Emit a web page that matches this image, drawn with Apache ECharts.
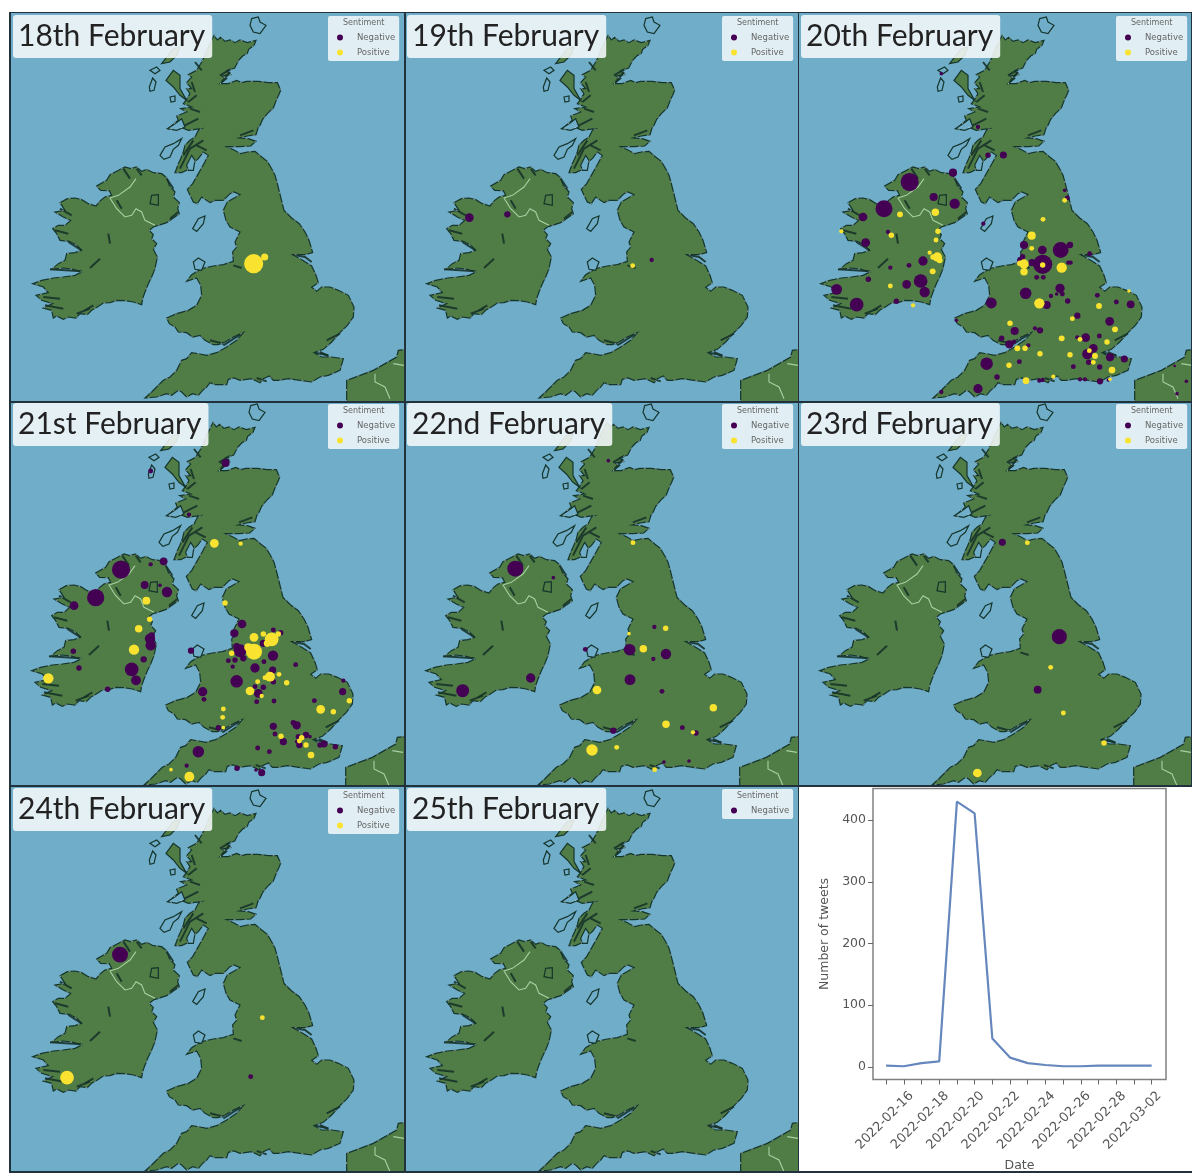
<!DOCTYPE html>
<html>
<head>
<meta charset="utf-8">
<title>UK and Ireland tweets by sentiment</title>
<script src="https://cdn.jsdelivr.net/npm/echarts@6/dist/echarts.min.js"></script>
<style>
    html, body { margin: 0; background: #fff; }
    .panel { position: absolute; width: 394px; filter: blur(0.6px); }
    .rule { position: absolute; background: #21323d; z-index: 5; }
</style>
</head>
<body>
<script type="text/javascript">
// map units: x right, y down, 1182 x 1164 for one panel
// points are [x, y, tweets]
var feb18Negative = [];
var feb18Positive = [[731,755,72],[764,735,9]];
var feb19Negative = [[196,617,14],[310,607,7],[743,744,3]];
var feb19Positive = [[686,761,4]];
var feb20Negative = [
    [335,510,64],[258,590,56],[465,482,12],[407,555,12],[470,575,20],[195,615,14],[203,692,14],[270,660,3],
    [375,747,16],[333,760,4],[277,767,3],[211,802,5],[368,807,36],[326,817,14],[380,840,20],[116,832,22],
    [176,878,36],[295,868,5],[570,430,5],[616,429,9],[808,558,4],[800,535,2],[556,635,3],[430,185,2],[540,345,3],
    [875,725,4],[788,714,49],[816,699,7],[733,714,14],[678,699,12],[734,757,72],[702,752,9],[674,734,5],[668,745,9],
    [716,796,4],[736,796,4],[811,752,3],[818,752,3],[683,844,25],[786,829,16],[793,846,4],[776,846,2],[759,852,3],
    [809,867,5],[746,879,12],[898,850,4],[955,870,4],[998,877,11],[838,911,7],[935,928,14],[650,957,12],[711,949,3],
    [726,955,7],[611,979,5],[634,997,12],[648,989,3],[863,977,14],[838,976,3],[904,972,4],[886,1009,14],[868,1026,20],
    [872,1051,5],[936,1036,12],[979,1041,9],[905,1065,5],[826,1064,4],[691,1000,3],[664,1049,4],[724,1106,3],[734,1104,3],
    [846,1102,3],[861,1102,3],[906,1108,7],[931,1104,2],[566,1055,30],[540,1130,16],[597,1095,5],[430,1140,3],[580,873,22],
    [475,925,2],[1130,1062,1],[1165,1108,2],[1137,1145,2]
];
var feb20Positive = [
    [701,671,12],[701,709,4],[678,756,16],[666,754,6],[678,779,10],[734,759,5],[791,767,20],[724,874,20],[903,882,6],
    [823,920,4],[951,952,6],[636,934,5],[791,979,6],[846,982,4],[927,990,5],[993,837,2],[658,1009,6],[681,1009,5],
    [726,1025,5],[816,1028,5],[633,1060,5],[874,1016,4],[891,1032,6],[886,1051,4],[942,1074,8],[684,1106,8],[766,1094,3],
    [936,1102,2],[735,622,4],[800,565,4],[306,607,6],[412,601,10],[420,658,5],[414,684,4],[395,722,3],[418,735,16],
    [405,735,5],[425,745,6],[404,778,6],[280,670,5],[277,822,4],[345,880,3],[130,658,3]
];
var feb21Negative = [
    [333,503,64],[257,587,58],[461,478,11],[422,487,3],[404,549,11],[471,570,20],[192,611,14],[420,710,20],[422,730,20],
    [425,700,7],[190,748,5],[401,772,7],[207,798,5],[365,802,36],[378,835,18],[293,862,5],[450,550,2],[647,183,11],
    [422,207,4],[537,338,3],[696,666,14],[673,694,12],[543,746,7],[690,746,32],[680,734,9],[675,774,5],[655,776,4],
    [700,769,7],[668,794,3],[760,724,9],[790,684,4],[812,692,5],[789,761,20],[762,779,4],[857,788,4],[735,798,16],
    [788,804,9],[790,839,5],[780,826,4],[680,838,30],[735,854,4],[760,856,5],[745,874,14],[740,899,4],[792,897,4],
    [578,869,16],[582,892,4],[1000,836,3],[998,869,9],[913,896,4],[625,977,5],[790,973,9],[850,962,5],[860,970,12],
    [795,996,4],[820,1019,9],[865,1004,5],[888,999,7],[868,1029,7],[900,1004,2],[860,1019,2],[942,1026,9],[930,1029,5],
    [976,1034,5],[743,1038,4],[778,1049,4],[565,1049,25],[530,1091,3],[681,1099,5],[755,1112,9],[738,1104,2]
];
var feb21Positive = [
    [732,706,14],[732,749,50],[715,736,12],[665,754,5],[785,712,36],[760,696,5],[772,724,9],[805,696,5],[780,824,18],
    [807,817,4],[765,827,4],[743,839,4],[830,842,5],[720,867,14],[755,882,3],[640,921,4],[638,946,4],[932,922,14],
    [970,929,5],[1018,896,5],[640,977,2],[813,1003,5],[875,1007,5],[888,1029,5],[868,1017,4],[903,1059,8],[538,1124,18],
    [483,1103,2],[613,424,14],[692,425,3],[645,603,5],[409,596,11],[419,652,5],[386,680,10],[372,743,20],[115,829,20]
];
var feb22Negative = [
    [334,500,50],[176,866,32],[380,828,16],[448,527,2],[613,176,2],[751,675,3],[677,743,25],[786,756,20],[748,771,3],
    [544,742,4],[678,833,22],[774,868,4],[628,986,7],[835,977,4],[876,993,5],[780,1080,2],[855,1077,2]
];
var feb22Positive = [
    [687,422,4],[785,679,5],[718,740,10],[675,695,2],[579,864,14],[928,917,10],[786,967,10],[867,991,3],[564,1044,25],
    [638,1036,4],[752,1103,4]
];
var feb23Negative = [[613,421,9],[784,704,44],[719,863,11],[533,1122,1]];
var feb23Positive = [[688,422,4],[758,796,4],[796,933,4],[918,1023,5],[538,1113,14]];
var feb24Negative = [[330,509,49],[722,875,4]];
var feb24Positive = [[171,878,36],[757,698,4]];
var feb25Negative = [];
var feb25Positive = null;

var tweetDates = ['2022-02-15','2022-02-16','2022-02-17','2022-02-18','2022-02-19','2022-02-20','2022-02-21','2022-02-22',
    '2022-02-23','2022-02-24','2022-02-25','2022-02-26','2022-02-27','2022-02-28','2022-03-01','2022-03-02'];
var tweetCounts = [2, 1, 6, 9, 430, 411, 46, 15, 6, 3, 1, 1, 2, 2, 2, 2];
var tweetTicks = [0, 100, 200, 300, 400];

// outlines
var britain = [[612,70],[622,84],[632,76],[645,88],[660,84],[675,92],[690,84],[712,92],[738,85],[732,100],[716,112],[712,124],[698,132],
    [686,145],[674,168],[650,176],[662,188],[636,192],[650,200],[630,215],[655,215],[680,205],[695,212],[710,208],[745,208],[775,212],[802,212],
    [812,235],[806,250],[800,262],[790,288],[772,305],[758,322],[750,340],[745,345],[738,368],[712,372],[688,378],[715,380],[738,388],[722,402],
    [690,404],[650,404],[672,414],[692,425],[712,420],[735,418],[755,435],[772,448],[785,470],[795,490],[802,515],[812,555],[822,595],[845,618],
    [868,635],[885,660],[897,685],[908,722],[885,728],[848,728],[878,745],[905,762],[918,790],[925,812],[905,826],[920,838],[935,825],[960,825],
    [985,835],[1015,850],[1032,885],[1030,915],[1012,940],[990,962],[965,990],[940,1012],[912,1022],[935,1035],[965,1035],[1000,1040],[990,1075],
    [955,1090],[930,1095],[905,1110],[870,1105],[835,1100],[805,1105],[790,1105],[778,1092],[760,1100],[750,1112],[725,1100],[690,1105],[672,1098],
    [655,1102],[650,1118],[615,1118],[600,1112],[590,1125],[578,1135],[565,1150],[548,1145],[530,1155],[515,1140],[505,1135],[485,1150],[470,1145],
    [440,1155],[405,1158],[425,1140],[440,1125],[460,1105],[480,1095],[500,1075],[515,1045],[530,1040],[545,1022],[570,1026],[590,1030],[620,1022],
    [650,1005],[680,985],[700,962],[670,975],[645,990],[625,998],[610,998],[585,985],[570,970],[548,975],[530,962],[505,960],[495,945],[478,935],
    [470,918],[500,905],[535,895],[560,880],[575,850],[572,820],[560,798],[530,808],[545,788],[575,770],[610,762],[640,758],[670,748],[668,720],
    [680,705],[675,690],[690,660],[660,645],[648,625],[640,595],[652,570],[690,548],[672,540],[660,545],[640,565],[615,565],[600,572],[575,555],
    [562,575],[550,570],[540,550],[532,532],[548,515],[565,485],[580,458],[595,430],[580,420],[565,440],[540,460],[530,475],[515,482],[495,482],
    [505,455],[512,440],[520,420],[525,400],[540,385],[555,375],[565,355],[575,350],[555,352],[535,355],[510,345],[490,352],[475,350],[505,325],
    [500,312],[530,300],[512,290],[545,285],[520,275],[530,262],[540,245],[530,230],[545,230],[530,212],[545,195],[535,188],[560,175],[575,150],
    [585,130],[590,115],[600,95],[612,70]];
var ireland = [[380,465],[395,478],[410,472],[430,482],[455,485],[470,497],[478,520],[495,540],[490,555],[508,572],[503,590],[508,605],[490,618],
    [470,632],[445,640],[430,645],[418,655],[430,668],[425,680],[440,695],[430,712],[442,735],[435,770],[425,795],[415,815],[405,840],[398,860],
    [395,878],[370,870],[345,866],[320,865],[300,872],[280,873],[262,885],[245,895],[232,908],[210,905],[198,918],[175,915],[160,922],[140,912],
    [130,918],[125,895],[100,888],[128,875],[95,865],[78,850],[115,842],[100,825],[68,815],[95,805],[130,798],[160,795],[195,790],[215,780],
    [190,772],[160,768],[125,772],[145,755],[165,745],[170,725],[195,722],[215,715],[200,700],[178,688],[150,685],[140,665],[128,650],[145,640],
    [165,640],[182,625],[160,615],[135,600],[165,595],[150,572],[172,560],[195,558],[215,563],[235,575],[258,582],[272,565],[285,555],[305,550],
    [298,536],[272,535],[260,522],[290,505],[300,488],[320,478],[345,465],[362,470],[380,465]];
var france = [[1010,1170],[1010,1105],[1090,1075],[1160,1035],[1165,1015],[1190,1012],[1190,1170]];
var skye = [[468,205],[490,175],[510,190],[510,230],[530,265],[510,250],[490,225]];
var lewis = [[455,155],[470,135],[490,110],[510,105],[500,130],[480,150]];
var neagh = [[420,575],[425,550],[445,548],[445,580]];
var blueIsles = [
    [[725,20],[745,15],[750,30],[768,40],[750,65],[730,60],[720,40]],
    [[420,175],[440,165],[450,175],[435,185]],
    [[418,225],[428,198],[438,210],[432,235],[420,238]],
    [[480,255],[495,252],[495,268],[483,270]],
    [[472,350],[495,335],[515,320],[525,345],[500,355]],
    [[450,430],[465,405],[490,395],[515,380],[505,400],[490,412],[480,435],[462,442]],
    [[530,460],[545,430],[555,445],[550,475],[535,475]],
    [[548,650],[565,620],[585,612],[580,635],[560,658]],
    [[550,750],[565,738],[585,750],[575,775],[555,772]]
];
var irishBorder = [[378,500],[360,525],[325,550],[300,558],[320,590],[345,615],[365,610],[378,590],[395,600],[405,625],[435,640]];
var frenchBorder = [[1095,1085],[1095,1110],[1125,1125],[1140,1160]];
var frenchBorder2 = [[1150,1055],[1182,1060]];
var inlets = [
    [[635,210],[660,180]],[[630,190],[665,170]],[[540,290],[570,300]],[[525,340],[565,320]],[[545,210],[555,240]],[[690,370],[730,355]],
    [[510,470],[540,410],[580,385]],[[560,400],[590,415]],[[850,728],[885,735],[905,750]],[[915,1022],[955,1030]],[[670,760],[695,768]],
    [[640,1000],[695,965]],[[320,565],[335,590]],[[120,772],[215,778]],[[240,768],[270,740]],[[295,665],[300,695]],[[175,690],[215,715]],
    [[380,470],[395,490]],[[340,470],[360,500]],[[150,590],[185,610]],[[135,655],[175,665]],[[100,855],[150,860]],[[105,880],[160,890]],
    [[225,895],[250,880]],[[930,1020],[955,1032]],[[950,985],[990,965]],[[560,250],[535,270]],[[555,150],[575,175]],[[520,430],[550,385]],
    [[740,1098],[770,1108]],[[600,985],[640,995]],[[470,500],[490,530]],[[480,620],[505,600]],[[200,905],[240,890]]
];

var SEA = '#6fadc9', LAND = '#4f7d45', COAST = '#16352c';

function flip(ring) {
    return ring.map(function (p) { return [p[0], -p[1]]; });
}

function feature(name, ring) {
    return { type: 'Feature', properties: { name: name }, geometry: { type: 'Polygon', coordinates: [flip(ring)] } };
}

var features = [feature('britain', britain), feature('ireland', ireland), feature('france', france), feature('skye', skye),
    feature('lewis', lewis), feature('neagh', neagh)];
var seaRegions = [];
blueIsles.forEach(function (ring, i) {
    features.push(feature('isle' + i, ring));
    seaRegions.push({ name: 'isle' + i, itemStyle: { areaColor: SEA } });
});
echarts.registerMap('isles', { type: 'FeatureCollection', features: features });

function lineSet(list, style) {
    return {
        type: 'lines', coordinateSystem: 'geo', polyline: true, silent: true,
        data: list.map(function (l) { return { coords: flip(l) }; }),
        lineStyle: style
    };
}

function dots(name, pts, color, shift) {
    return {
        name: name, type: 'scatter', coordinateSystem: 'geo', silent: true,
        data: pts.map(function (p) { return [p[0] + shift[0], -(p[1] + shift[1]), p[2]]; }),
        symbolSize: function (d) { return 2.2 * Math.sqrt(d[2]) + 0.5; },
        itemStyle: { color: color, opacity: 1 }
    };
}

function addMap(col, row, title, negative, positive) {
    var colX = [10, 404, 798], rowY = [12, 402, 785], rowH = [390, 383, 387];
    var div = document.createElement('div');
    div.className = 'panel';
    div.style.left = colX[col] + 'px';
    div.style.top = rowY[row] + 'px';
    div.style.height = rowH[row] + 'px';
    div.style.background = SEA;
    document.body.appendChild(div);

    // middle row of the picture sits a little higher
    var off = row === 1 ? [-1, -3] : [0, 0];
    var shift = [-off[0] * 3, -off[1] * 3];
    var boxTop = row === 1 ? 1 : 3;

    var series = [
        lineSet(inlets, { color: '#17332a', width: 2, opacity: 0.9 }),
        lineSet([britain, ireland, france], { color: '#d8ebe6', width: 0.8, type: [2, 9], opacity: 0.7 }),
        lineSet([irishBorder, frenchBorder, frenchBorder2], { color: '#a9d0a4', width: 1.1, opacity: 1 }),
        dots('Negative', negative, '#440154', shift)
    ];
    if (positive) series.push(dots('Positive', positive, '#f9e330', shift));

    echarts.init(div).setOption({
        animation: false,
        backgroundColor: SEA,
        title: [
            { text: title, left: 3, top: boxTop, padding: [6, 7, 7, 5], backgroundColor: 'rgba(246,249,250,0.88)', borderRadius: 3,
              textStyle: { fontFamily: 'Lato', fontSize: 30, fontWeight: 'normal', color: '#222' } },
            { text: 'Sentiment', left: 333, top: boxTop + 4, padding: 0,
              textStyle: { fontFamily: 'DejaVu Sans', fontSize: 8, fontWeight: 'normal', color: '#666' } }
        ],
        legend: {
            orient: 'vertical', left: 318, top: boxTop + 1, padding: [17, 4, 4, 9], itemGap: 6, itemWidth: 20, itemHeight: 6,
            icon: 'circle', backgroundColor: 'rgba(246,249,250,0.85)', borderRadius: 2, selectedMode: false,
            textStyle: { fontFamily: 'DejaVu Sans', fontSize: 8.5, color: '#666', padding: [0, 0, 0, 2] }
        },
        geo: {
            map: 'isles', silent: true, aspectScale: 1,
            boundingCoords: [[0, 0], [1182, -1164]],
            left: off[0], top: off[1], width: 394, height: 388,
            itemStyle: { areaColor: LAND, borderColor: COAST, borderWidth: 1.2 },
            regions: seaRegions,
            label: { show: false }
        },
        series: series
    });
}

function addTweets() {
    var div = document.createElement('div');
    div.className = 'panel';
    div.style.left = '798px';
    div.style.top = '785px';
    div.style.height = '387px';
    div.style.background = '#fff';
    document.body.appendChild(div);

    var textStyle = { fontFamily: 'DejaVu Sans', fontSize: 12.5, color: '#555' };
    var dayIndex = tweetDates.map(function (d, i) { return i; });
    echarts.init(div).setOption({
        animation: false,
        grid: { left: 75, top: 3.5, width: 293, height: 291, show: true, borderColor: '#808080', borderWidth: 1.5, outerBoundsMode: 'none' },
        xAxis: {
            type: 'value', min: -0.74, max: 15.81, name: 'Date', nameLocation: 'middle', nameGap: 78, nameTextStyle: textStyle,
            splitLine: { show: false }, axisLine: { show: false, onZero: false },
            axisTick: { show: true, length: 5, lineStyle: { color: '#666' }, customValues: dayIndex },
            axisLabel: Object.assign({}, textStyle, {
                rotate: 45, margin: 22, fontSize: 13, align: 'center', verticalAlign: 'middle', padding: [0, 54, 0, 0],
                customValues: dayIndex.filter(function (i) { return i % 2 === 1; }),
                formatter: function (v) { return tweetDates[v]; }
            })
        },
        yAxis: {
            type: 'value', min: -20.5, max: 451.4, name: 'Number of tweets', nameLocation: 'middle', nameGap: 41, nameTextStyle: textStyle,
            splitLine: { show: false }, axisLine: { show: false, onZero: false },
            axisTick: { show: true, length: 5, lineStyle: { color: '#666' }, customValues: tweetTicks },
            axisLabel: Object.assign({ margin: 7, customValues: tweetTicks }, textStyle)
        },
        series: [{
            type: 'line', showSymbol: false, silent: true,
            data: tweetDates.map(function (d, i) { return [i, tweetCounts[i]]; }),
            lineStyle: { color: '#6687bd', width: 2.2 }
        }]
    });
}

function addRule(x, y, w, h) {
    var r = document.createElement('div');
    r.className = 'rule';
    r.style.cssText = 'left:' + x + 'px;top:' + y + 'px;width:' + w + 'px;height:' + h + 'px';
    document.body.appendChild(r);
}

addMap(0, 0, '18th February', feb18Negative, feb18Positive);
addMap(1, 0, '19th February', feb19Negative, feb19Positive);
addMap(2, 0, '20th February', feb20Negative, feb20Positive);
addMap(0, 1, '21st February', feb21Negative, feb21Positive);
addMap(1, 1, '22nd February', feb22Negative, feb22Positive);
addMap(2, 1, '23rd February', feb23Negative, feb23Positive);
addMap(0, 2, '24th February', feb24Negative, feb24Positive);
addMap(1, 2, '25th February', feb25Negative, feb25Positive);
addTweets();

addRule(9, 12, 1.5, 1160);
addRule(404, 12, 1.5, 1160);
addRule(797.5, 12, 1.5, 1160);
addRule(1191, 12, 1, 773);
addRule(9, 12, 1183, 1);
addRule(9, 401, 1183, 1.5);
addRule(9, 785, 1183, 1.5);
addRule(9, 1171, 1183, 1.5);
</script>
</body>
</html>
